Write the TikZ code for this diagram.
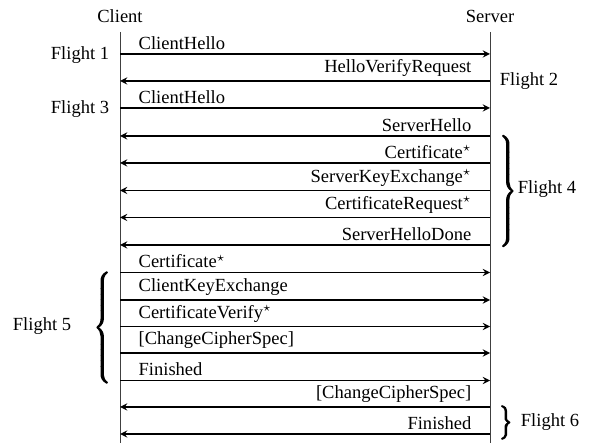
\documentclass[tikz,border=0pt]{standalone}
\usepackage{fontspec}
\setmainfont{Liberation Serif}
\usepackage{tikz}
\delimiterfactor=1000
\delimitershortfall=0pt
% heavier strokes for the flight braces
\newcommand{\heavybrace}[1]{\special{pdf:literal 2 Tr 0.6 w}#1\special{pdf:literal 0 Tr}}

\begin{document}
\begin{tikzpicture}[x=0.54pt,y=-0.54pt,
    life/.style={line width=0.5pt, black!75},
    msg/.style={-stealth, line width=0.75pt},
    fromc/.style={pos=0, anchor=south west, xshift=7.7pt, inner sep=2pt},
    froms/.style={pos=0, anchor=south east, xshift=-7.7pt, inner sep=2pt},
    flightbrace/.style={inner sep=0pt},
    flight/.style={anchor=base, inner sep=0pt}]
      \useasboundingbox (0,0) rectangle (593,443);

      \node[flight] (client) at (120,22.7) {Client};
      \node[flight] (server) at (490,22.7) {Server};
      \coordinate (ctop) at (120,32);  \coordinate (stop) at (490,32);
      \coordinate (cend) at (120,443); \coordinate (send) at (490,443);
      \draw[life] (ctop)--(cend);
      \draw[life] (stop)--(send);

      \coordinate (c1) at (120,54);    \coordinate (s1) at (490,54);
      \coordinate (c2) at (120,81);    \coordinate (s2) at (490,81);
      \coordinate (c3) at (120,108);   \coordinate (s3) at (490,108);
      \coordinate (c4) at (120,136);   \coordinate (s4) at (490,136);
      \coordinate (c5) at (120,163);   \coordinate (s5) at (490,163);
      \coordinate (c6) at (120,190.5); \coordinate (s6) at (490,190.5);
      \coordinate (c7) at (120,217.5); \coordinate (s7) at (490,217.5);
      \coordinate (c8) at (120,245);   \coordinate (s8) at (490,245);
      \coordinate (c9) at (120,272.5); \coordinate (s9) at (490,272.5);
      \coordinate (c10) at (120,300);  \coordinate (s10) at (490,300);
      \coordinate (c11) at (120,326.5);\coordinate (s11) at (490,326.5);
      \coordinate (c12) at (120,353);  \coordinate (s12) at (490,353);
      \coordinate (c13) at (120,380.5);\coordinate (s13) at (490,380.5);
      \coordinate (c14) at (120,407);  \coordinate (s14) at (490,407);
      \coordinate (c15) at (120,434);  \coordinate (s15) at (490,434);

      \draw[msg] (c1)--(s1) node[fromc] (m1) {ClientHello};
      \draw[msg] (s2)--(c2) node[froms] (m2) {HelloVerifyRequest};
      \draw[msg] (c3)--(s3) node[fromc] (m3) {ClientHello};
      \draw[msg] (s4)--(c4) node[froms] (m4) {ServerHello};
      \draw[msg] (s5)--(c5) node[froms] (m5) {Certificate$^\star$};
      \draw[msg] (s6)--(c6) node[froms] (m6) {ServerKeyExchange$^\star$};
      \draw[msg] (s7)--(c7) node[froms] (m7) {CertificateRequest$^\star$};
      \draw[msg] (s8)--(c8) node[froms] (m8) {ServerHelloDone};
      \draw[msg] (c9)--(s9) node[fromc] (m9) {Certificate$^\star$};
      \draw[msg] (c10)--(s10) node[fromc] (m10) {ClientKeyExchange};
      \draw[msg] (c11)--(s11) node[fromc] (m11) {CertificateVerify$^\star$};
      \draw[msg] (c12)--(s12) node[fromc] (m12) {[ChangeCipherSpec]};
      \draw[msg] (c13)--(s13) node[fromc] (m13) {Finished};
      \draw[msg] (s14)--(c14) node[froms] (m14) {[ChangeCipherSpec]};
      \draw[msg] (s15)--(c15) node[froms] (m15) {Finished};

      % flight braces
      \node at (497,191) [flightbrace,anchor=west] (br4)
        {\heavybrace{$\left.\vcenter{\hbox{\rule{0pt}{57pt}}}\right\}$}};
      \node at (113,327.5) [flightbrace,anchor=east] (br5)
        {\heavybrace{$\left\{\vcenter{\hbox{\rule{0pt}{58pt}}}\right.$}};
      \node at (497,422.5) [flightbrace,anchor=west] (br6)
        {\heavybrace{$\left.\vcenter{\hbox{\rule{0pt}{15.5pt}}}\right\}$}};

      \node[flight] (f1) at (80,59.3) {Flight 1};
      \node[flight] (f2) at (529,86) {Flight 2};
      \node[flight] (f3) at (80,113.3) {Flight 3};
      \node[flight] (f4) at (547,193.3) {Flight 4};
      \node[flight] (f5) at (42,330.7) {Flight 5};
      \node[flight] (f6) at (550,426.7) {Flight 6};
    \end{tikzpicture}
\end{document}
